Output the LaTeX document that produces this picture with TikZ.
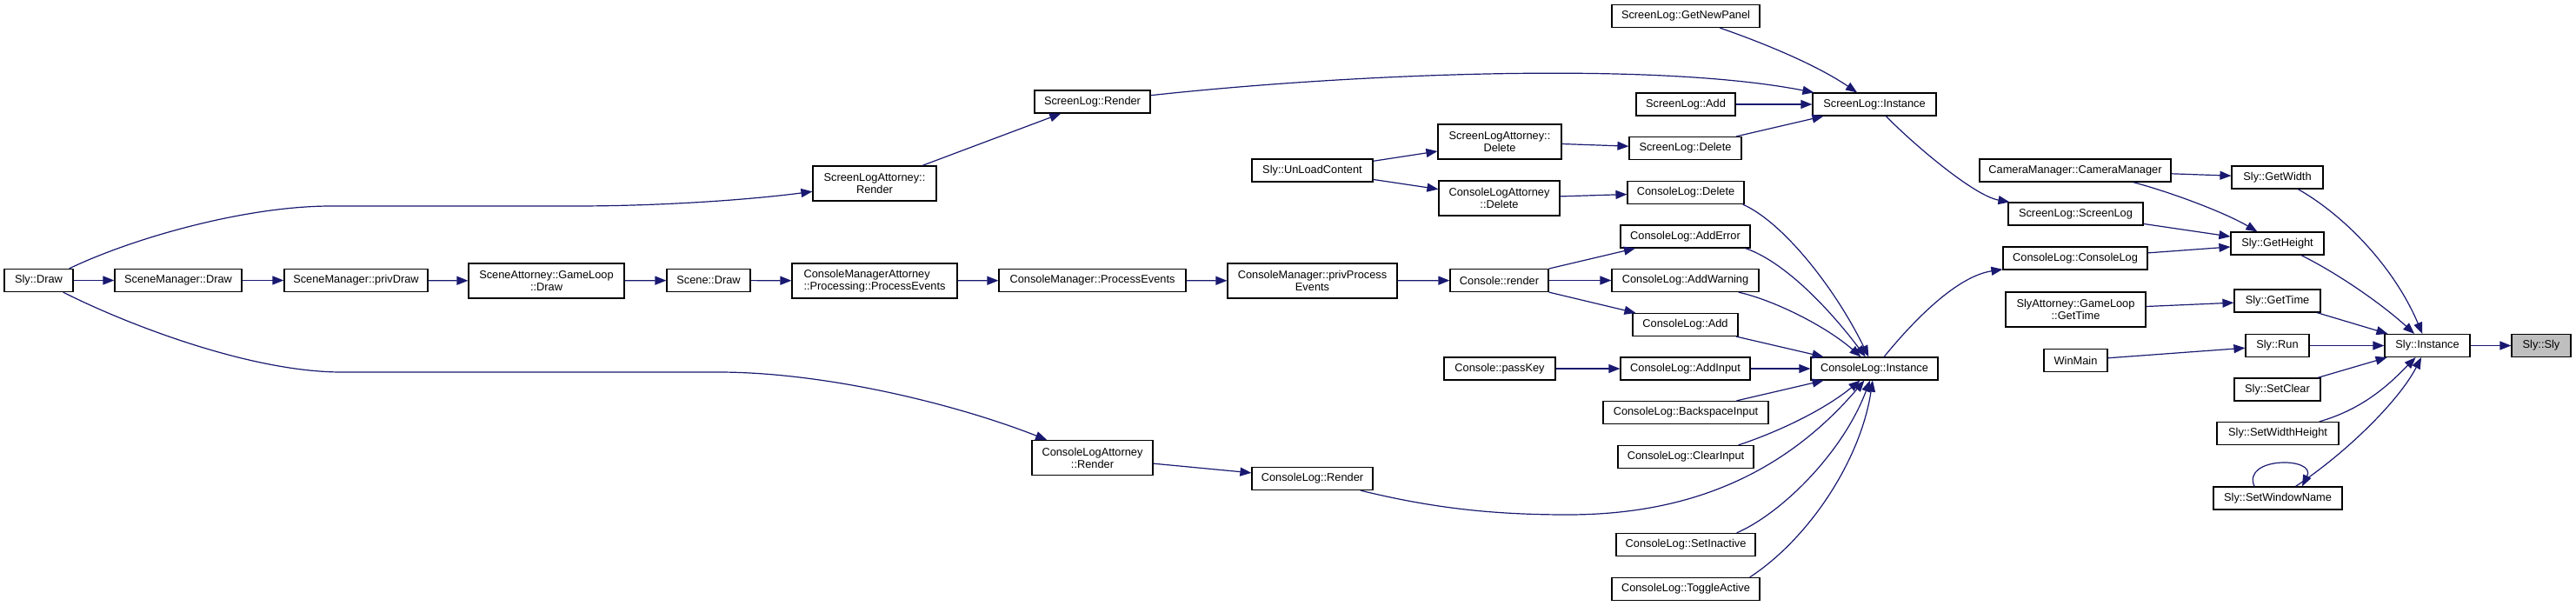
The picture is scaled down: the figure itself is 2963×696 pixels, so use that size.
\documentclass[tikz,border=0pt]{standalone}
\usepackage{fontspec}
\setmainfont{Liberation Sans}
\usetikzlibrary{arrows.meta}
\definecolor{edgeblue}{HTML}{191970}
\definecolor{curgrey}{HTML}{BFBFBF}
\begin{document}
\begin{tikzpicture}[x=1pt,y=-1pt,
  fn/.style={draw=black, line width=1.2pt, fill=white, inner sep=0pt, align=center,
    font=\fontsize{12.8}{14}\selectfont, minimum height=26pt},
  fn2/.style={fn, minimum height=40pt},
  conn/.style={draw=edgeblue, line width=1.2pt, -{Triangle[length=13pt,width=10pt]}}]
\fill[white] (0,0) rectangle (2963,696);
\useasboundingbox (0,0) rectangle (2963,696);
% nodes
\node[fn, minimum width=79pt] (slydraw) at (44.5,322.5) {Sly::Draw};
\node[fn, minimum width=146pt] (smdraw) at (205,322.5) {SceneManager::Draw};
\node[fn, minimum width=165pt] (smpriv) at (409.5,322.5) {SceneManager::privDraw};
\node[fn2, minimum width=179pt] (sagl) at (628.5,323) {SceneAttorney::GameLoop\\::Draw};
\node[fn, minimum width=96pt] (scenedraw) at (815,322.5) {Scene::Draw};
\node[fn2, minimum width=142pt] (slarender) at (1006,211) {ScreenLogAttorney::\\Render};
\node[fn2, minimum width=190pt, align=left] (cmap) at (1006,323) {ConsoleManagerAttorney\\::Processing::ProcessEvents};
\node[fn, minimum width=215pt] (cmpe) at (1256.5,322.5) {ConsoleManager::ProcessEvents};
\node[fn, minimum width=133pt] (slrender) at (1256.5,117) {ScreenLog::Render};
\node[fn2, minimum width=139pt] (clarender) at (1256.5,526.5) {ConsoleLogAttorney\\::Render};
\node[fn2, minimum width=195pt] (cmppe) at (1509.5,323) {ConsoleManager::privProcess\\Events};
\node[fn, minimum width=139pt] (unload) at (1509.5,196) {Sly::UnLoadContent};
\node[fn, minimum width=139pt] (clrender) at (1509.5,550.5) {ConsoleLog::Render};
\node[fn2, minimum width=142pt] (sladel) at (1725,163) {ScreenLogAttorney::\\Delete};
\node[fn2, minimum width=139pt] (cladel) at (1724.5,228) {ConsoleLogAttorney\\::Delete};
\node[fn, minimum width=113pt] (crender) at (1724.5,322.5) {Console::render};
\node[fn, minimum width=128pt] (passkey) at (1725,424) {Console::passKey};
\node[fn, minimum width=170pt] (getnewpanel) at (1939,18.5) {ScreenLog::GetNewPanel};
\node[fn, minimum width=114pt] (sladd) at (1939,120) {ScreenLog::Add};
\node[fn, minimum width=129pt] (sldel) at (1938.5,170.5) {ScreenLog::Delete};
\node[fn, minimum width=134pt] (cldel) at (1939,221.5) {ConsoleLog::Delete};
\node[fn, minimum width=149pt] (adderror) at (1938.5,272) {ConsoleLog::AddError};
\node[fn, minimum width=169pt] (addwarning) at (1938.5,322.5) {ConsoleLog::AddWarning};
\node[fn, minimum width=121pt] (cladd) at (1938.5,373.5) {ConsoleLog::Add};
\node[fn, minimum width=149pt] (addinput) at (1938.5,424) {ConsoleLog::AddInput};
\node[fn, minimum width=190pt] (backspace) at (1939,474.5) {ConsoleLog::BackspaceInput};
\node[fn, minimum width=156pt] (clearinput) at (1939,525.5) {ConsoleLog::ClearInput};
\node[fn, minimum width=160pt] (setinactive) at (1939,626.5) {ConsoleLog::SetInactive};
\node[fn, minimum width=170pt] (toggle) at (1939,677.5) {ConsoleLog::ToggleActive};
\node[fn, minimum width=142pt] (slinst) at (2156,120) {ScreenLog::Instance};
\node[fn, minimum width=146pt] (clinst) at (2156,424) {ConsoleLog::Instance};
\node[fn, minimum width=220pt] (cammgr) at (2387,196) {CameraManager::CameraManager};
\node[fn, minimum width=155pt] (slsl) at (2387.5,246) {ScreenLog::ScreenLog};
\node[fn, minimum width=166pt] (clcl) at (2387,297) {ConsoleLog::ConsoleLog};
\node[fn2, minimum width=161pt] (slyatt) at (2387.5,356) {SlyAttorney::GameLoop\\::GetTime};
\node[fn, minimum width=73pt] (winmain) at (2387.5,414.5) {WinMain};
\node[fn, minimum width=105pt] (getwidth) at (2619.5,204) {Sly::GetWidth};
\node[fn, minimum width=107pt] (getheight) at (2619.5,280) {Sly::GetHeight};
\node[fn, minimum width=99pt] (gettime) at (2619.5,346) {Sly::GetTime};
\node[fn, minimum width=73pt] (run) at (2619.5,397.5) {Sly::Run};
\node[fn, minimum width=99pt] (setclear) at (2619.5,448) {Sly::SetClear};
\node[fn, minimum width=140pt] (setwh) at (2620,498.5) {Sly::SetWidthHeight};
\node[fn, minimum width=148pt] (setwn) at (2620,573) {Sly::SetWindowName};
\node[fn, minimum width=98pt] (inst) at (2792,397.5) {Sly::Instance};
\node[fn, minimum width=68pt, fill=curgrey] (slysly) at (2923,397.5) {Sly::Sly};
% main row
\draw[conn] (slydraw) -- (smdraw);
\draw[conn] (smdraw) -- (smpriv);
\draw[conn] (smpriv) -- (sagl);
\draw[conn] (sagl) -- (scenedraw);
\draw[conn] (scenedraw) -- (cmap);
\draw[conn] (cmap) -- (cmpe);
\draw[conn] (cmpe) -- (cmppe);
\draw[conn] (cmppe) -- (crender);
\draw[conn] (crender) -- (adderror);
\draw[conn] (crender) -- (addwarning);
\draw[conn] (crender) -- (cladd);
\draw[conn] (passkey) -- (addinput);
% Sly::Draw long edges
\draw[conn] ([xshift=-5pt]slydraw.north east) .. controls (150,275) and (280,237) .. (381,237) -- (661,237) .. controls (760,237) and (860,230) .. (slarender);
\draw[conn] (slarender) -- (slrender);
\draw[conn] (slrender) .. controls (1550,85) and (1900,70) .. (slinst);
\draw[conn] ([xshift=-12pt]slydraw.south east) .. controls (150,375) and (290,428) .. (393,428) -- (826,428) .. controls (950,428) and (1100,465) .. (clarender);
\draw[conn] (clarender) -- (clrender);
\draw[conn] (clrender) .. controls (1650,585) and (1720,592) .. (1803,592) .. controls (1920,592) and (2040,560) .. (clinst);
% UnLoadContent
\draw[conn] (unload) -- (sladel);
\draw[conn] (unload) -- (cladel);
\draw[conn] (sladel) -- (sldel);
\draw[conn] (cladel) -- (cldel);
% into ScreenLog::Instance
\draw[conn] (getnewpanel) .. controls (2030,50) and (2090,75) .. (slinst);
\draw[conn] (sladd) -- (slinst);
\draw[conn] (sldel) -- (slinst);
% into ConsoleLog::Instance
\draw[conn] ([xshift=-2pt]cldel.south east) .. controls (2050,255) and (2110,330) .. (clinst);
\draw[conn] ([xshift=-6pt]adderror.south east) .. controls (2050,300) and (2100,350) .. (clinst);
\draw[conn] ([xshift=-24pt]addwarning.south east) .. controls (2040,345) and (2100,375) .. (clinst);
\draw[conn] (cladd) -- (clinst);
\draw[conn] (addinput) -- (clinst);
\draw[conn] (backspace) -- (clinst);
\draw[conn] ([xshift=-18pt]clearinput.north east) .. controls (2050,495) and (2100,470) .. (clinst);
\draw[conn] ([xshift=-22pt]setinactive.north east) .. controls (2050,590) and (2120,520) .. (clinst);
\draw[conn] ([xshift=-12pt]toggle.north east) .. controls (2080,620) and (2140,530) .. (clinst);
% Instances to constructors
\draw[conn] (slinst) .. controls (2200,165) and (2270,225) .. (slsl);
\draw[conn] (clinst) .. controls (2200,370) and (2250,318) .. (clcl);
% to Sly getters
\draw[conn] (cammgr) -- (getwidth);
\draw[conn] ([xshift=-44pt]cammgr.south east) .. controls (2500,222) and (2560,245) .. (getheight);
\draw[conn] (slsl) -- (getheight);
\draw[conn] (clcl) -- (getheight);
\draw[conn] (slyatt) -- (gettime);
\draw[conn] (winmain) -- (run);
% into Sly::Instance
\draw[conn] (getwidth) .. controls (2700,250) and (2755,310) .. (inst);
\draw[conn] (getheight) .. controls (2690,315) and (2740,350) .. (inst);
\draw[conn] (gettime) -- (inst);
\draw[conn] (run) -- (inst);
\draw[conn] (setclear) -- (inst);
\draw[conn] (setwh) .. controls (2720,470) and (2750,440) .. (inst);
\draw[conn] (setwn) .. controls (2700,520) and (2760,460) .. (inst);
\draw[conn] ([xshift=-27pt]setwn.north) .. controls (2578,525) and (2665,525) .. ([xshift=28pt]setwn.north);
\draw[conn] (inst) -- (slysly);
\end{tikzpicture}
\end{document}
